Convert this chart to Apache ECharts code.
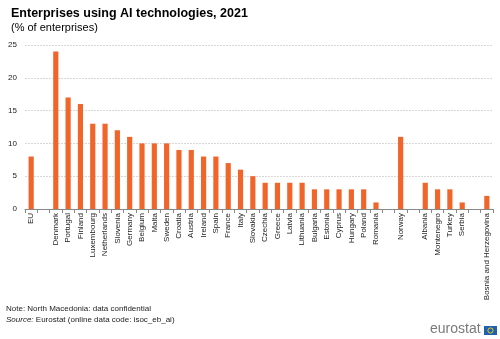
<!DOCTYPE html>
<html><head><meta charset="utf-8">
<script src="https://cdn.jsdelivr.net/npm/echarts@6/dist/echarts.min.js"></script>
<style>html,body{margin:0;padding:0;background:#fff}#c{width:500px;height:339px}</style>
</head><body><div id="c"></div>
<script>
const categories = ['EU','','Denmark','Portugal','Finland','Luxembourg','Netherlands','Slovenia','Germany','Belgium','Malta','Sweden','Croatia','Austria','Ireland','Spain','France','Italy','Slovakia','Czechia','Greece','Latvia','Lithuania','Bulgaria','Estonia','Cyprus','Hungary','Poland','Romania','','Norway','','Albania','Montenegro','Turkey','Serbia','','Bosnia and Herzegovina'];
const values = [8,null,24,17,16,13,13,12,11,10,10,10,9,9,8,8,7,6,5,4,4,4,4,3,3,3,3,3,1,null,11,null,4,3,3,1,null,2];
const yTicks = [0,5,10,15,20,25];
const chart = echarts.init(document.getElementById('c'));
const F = 'Liberation Sans, Arial, sans-serif';
chart.setOption({
  animation:false,
  title:[
    {text:'Enterprises using AI technologies, 2021',left:6,top:2,textStyle:{fontFamily:F,fontSize:12.5,fontWeight:'bold',color:'#000'}},
    {text:'(% of enterprises)',left:6,top:17,textStyle:{fontFamily:F,fontSize:11,fontWeight:'normal',color:'#000'}}
  ],
  grid:{left:25,right:7,top:45,bottom:130},
  xAxis:{type:'category',data:categories,
    axisLine:{lineStyle:{color:'#888',width:1}},
    axisTick:{show:true,interval:0,length:4,lineStyle:{color:'#888'}},
    axisLabel:{interval:0,rotate:90,fontFamily:F,fontSize:8,color:'#222',margin:4}},
  yAxis:{type:'value',min:0,max:25,interval:5,
    axisLine:{show:false},axisTick:{show:false},
    axisLabel:{fontFamily:F,fontSize:8,color:'#222',margin:8,formatter:v=>yTicks.includes(v)?String(v):''},
    splitLine:{lineStyle:{color:'#d8d8d8',type:[2,1],width:1}}},
  series:[{type:'bar',data:values,barWidth:'42%',itemStyle:{color:'#f0652a'}}],
  graphic:[
    {type:'text',left:6,top:305,style:{text:'Note: North Macedonia: data confidential',font:'8px '+F,fill:'#222'}},
    {type:'text',left:6,top:316,style:{rich:{i:{fontStyle:'italic',fontSize:8,fontFamily:F,fill:'#222'},n:{fontSize:8,fontFamily:F,fill:'#222'}},text:'{i|Source:}{n| Eurostat (online data code: isoc_eb_ai)}'}},
    {type:'text',left:430,top:322,style:{text:'eurostat',font:'14px '+F,fill:'#7a7a7a'}},
    {type:'rect',shape:{x:484,y:326,width:13,height:9},style:{fill:'#1d61b0'}},
    {type:'circle',shape:{cx:490.5,cy:330.5,r:2.6},style:{fill:'none',stroke:'#f5d000',lineWidth:1}}
  ]
});
</script></body></html>
